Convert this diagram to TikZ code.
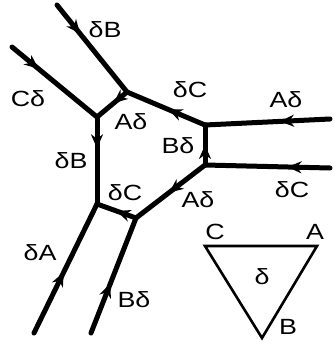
\documentclass[tikz,border=0pt]{standalone}
\usepackage{fontspec}
\setmainfont[FakeStretch=1.22]{Liberation Sans}
\usetikzlibrary{arrows.meta,decorations.markings}

\begin{document}
\begin{tikzpicture}[x=1pt, y=-1pt,
  leg/.style={line width=5pt, line cap=round},
  midarr/.style={postaction={decorate, decoration={markings,
    mark=at position #1 with {\arrow{Stealth[length=14pt, width=12pt, inset=4.5pt]}}}}},
  lbl/.style={font=\fontsize{22}{22}\selectfont, inner sep=0pt},
  tri/.style={line width=2.6pt, line join=miter}
]
\useasboundingbox (0,0) rectangle (334,349);
% hexagon corners
\coordinate (v1) at (127,92);
\coordinate (v2) at (97,117);
\coordinate (v3) at (97,204);
\coordinate (v4) at (136,218);
\coordinate (v5) at (205,165);
\coordinate (v6) at (205,125);
% free ends
\coordinate (tB) at (57,5);
\coordinate (tC) at (12,47);
\coordinate (rA) at (330,119);
\coordinate (rC) at (330,168);
\coordinate (bA) at (34,333);
\coordinate (bB) at (91,333);
% legs
\draw[leg, midarr=0.33] (tB) -- (v1);
\draw[leg, midarr=0.31] (tC) -- (v2);
\draw[leg, midarr=0.40] (rA) -- (v6);
\draw[leg, midarr=0.34] (rC) -- (v5);
\draw[leg, midarr=0.47] (bA) -- (v3);
\draw[leg, midarr=0.43] (bB) -- (v4);
% hexagon edges
\draw[leg, midarr=0.45] (v1) -- (v2);
\draw[leg, midarr=0.36] (v2) -- (v3);
\draw[leg, midarr=0.50] (v4) -- (v3);
\draw[leg, midarr=0.52] (v5) -- (v4);
\draw[leg, midarr=0.50] (v5) -- (v6);
\draw[leg, midarr=0.47] (v6) -- (v1);
% labels
\node[lbl] (ltB) at (105,30) {δB};
\node[lbl] (ltC) at (28,99) {Cδ};
\node[lbl] (l12) at (131,122) {Aδ};
\node[lbl] (l23) at (71,161) {δB};
\node[lbl] (l34) at (125,193) {δC};
\node[lbl] (lbA) at (40,253) {δA};
\node[lbl] (lbB) at (134,300) {Bδ};
\node[lbl] (l45) at (198,200) {Aδ};
\node[lbl] (lrC) at (292,190) {δC};
\node[lbl] (l56) at (178,146) {Bδ};
\node[lbl] (l61) at (190,90) {δC};
\node[lbl] (lrA) at (286,100) {Aδ};
% triangle
\coordinate (tc) at (205,246);
\coordinate (ta) at (317,246);
\coordinate (tb) at (262,338);
\draw[tri] (tc) -- (ta) -- (tb) -- cycle;
\node[lbl] (nc) at (215,232) {C};
\node[lbl] (na) at (315,232) {A};
\node[lbl] (nd) at (262,277) {δ};
\node[lbl] (nb) at (288,327) {B};
\end{tikzpicture}
\end{document}
